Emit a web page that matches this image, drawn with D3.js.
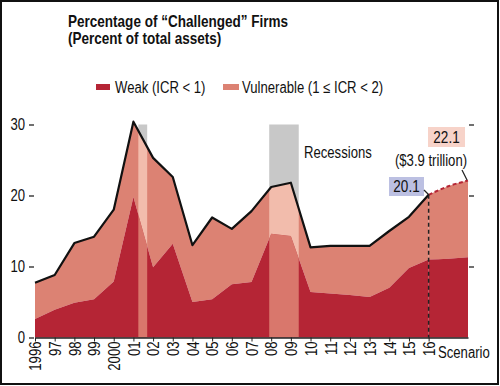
<!DOCTYPE html>
<html lang="en">
<head>
	<meta charset="UTF-8">
	<title>Challenged Firms</title>
	<style>
		body { margin:0; background:#fff; }
		text { font-family:"Liberation Sans",Arial,sans-serif; fill:#111; }
	</style>
</head>
<body>
	<svg width="500" height="386"></svg>

	<script src="https://d3js.org/d3.v7.min.js"></script>
	<script>
		// data
		var years = [1996,1997,1998,1999,2000,2001,2002,2003,2004,2005,2006,2007,2008,2009,2010,2011,2012,2013,2014,2015,2016,2017,2018];
		var weak  = [2.6,3.9,4.9,5.4,7.9,19.8,9.9,13.2,5.0,5.4,7.5,7.8,14.6,14.3,6.4,6.2,6.0,5.7,7.0,9.8,11.0,11.1,11.3];
		var total = [7.7,8.8,13.3,14.2,18.0,30.4,25.3,22.6,13.0,16.9,15.3,17.8,21.2,21.8,12.7,12.9,12.9,12.9,15.0,17.0,20.1,21.3,22.1];
		var tickLabels = ["1996","97","98","99","2000","01","02","03","04","05","06","07","08","09","10","11","12","13","14","15","16"];
		var lastActual = 2016;
		var recStart = [2001.25, 2007.9];
		var recEnd   = [2001.7, 2009.4];

		var svg = d3.select("svg");
		var x = d3.scaleLinear().domain([1996, 2018]).range([35, 468]);
		var y = d3.scaleLinear().domain([0, 30]).range([337.5, 124.5]);
		var narrow = 0.82; // squeeze Liberation Sans to look like a narrow face

		var data = years.map(function(yr, i){ return {yr:yr, w:weak[i], t:total[i]}; });
		var hist = data.filter(function(d){ return d.yr <= lastActual; });
		var scen = data.filter(function(d){ return d.yr >= lastActual; });

		var cWeak = "#b52535", cVuln = "#dc8273";

		function label(px, py, str, size, anchor, bold){
			return svg.append("text")
				.attr("transform","translate("+px+","+py+") scale("+narrow+",1)")
				.attr("font-size",size)
				.attr("text-anchor",anchor || "start")
				.attr("font-weight",bold ? "bold" : null)
				.text(str);
		}

		// frame
		svg.append("rect").attr("x",1).attr("y",1).attr("width",497).attr("height",383)
			.attr("fill","none").attr("stroke","#111").attr("stroke-width",2);

		// title
		label(68, 27, "Percentage of \u201CChallenged\u201D Firms", 16.5, "start", true);
		label(68, 44, "(Percent of total assets)", 16.5, "start", true);

		// legend
		svg.append("rect").attr("x",96).attr("y",84).attr("width",14).attr("height",6).attr("fill",cWeak);
		label(115, 93, "Weak (ICR < 1)", 16);
		svg.append("rect").attr("x",223).attr("y",84).attr("width",16).attr("height",6).attr("fill",cVuln);
		label(242, 93, "Vulnerable (1 \u2264 ICR < 2)", 16);

		// recession bands (grey part)
		svg.selectAll(".rec").data(recStart).enter().append("rect")
			.attr("x",function(d){ return x(d); })
			.attr("width",function(d,i){ return x(recEnd[i]) - x(d); })
			.attr("y",y(30)).attr("height",y(0)-y(30))
			.attr("fill","#c8c8c8");

		var areaV = function(curve){ return d3.area().x(function(d){ return x(d.yr); })
			.y0(function(d){ return y(d.w); }).y1(function(d){ return y(d.t); }).curve(curve); };
		var areaW = function(curve){ return d3.area().x(function(d){ return x(d.yr); })
			.y0(y(0)).y1(function(d){ return y(d.w); }).curve(curve); };

		var pieces = [[hist, d3.curveLinear], [scen, d3.curveMonotoneX]];
		var defs = svg.append("defs");
		var cpV = defs.append("clipPath").attr("id","clipV");
		var cpW = defs.append("clipPath").attr("id","clipW");
		pieces.forEach(function(p){
			svg.append("path").attr("d", areaV(p[1])(p[0])).attr("fill",cVuln);
			svg.append("path").attr("d", areaW(p[1])(p[0])).attr("fill",cWeak);
			cpV.append("path").attr("d", areaV(p[1])(p[0]));
			cpW.append("path").attr("d", areaW(p[1])(p[0]));
		});

		// recession bands seen through the areas
		[["clipV","#f2bcac"],["clipW","#d9776c"]].forEach(function(c){
			svg.append("g").attr("clip-path","url(#"+c[0]+")")
				.selectAll("rect").data(recStart).enter().append("rect")
				.attr("x",function(d){ return x(d); })
				.attr("width",function(d,i){ return x(recEnd[i]) - x(d); })
				.attr("y",y(30)).attr("height",y(0)-y(30))
				.attr("fill",c[1]);
		});

		// total line (history) and scenario dashed
		svg.append("path")
			.attr("d", d3.line().x(function(d){ return x(d.yr); }).y(function(d){ return y(d.t); })(hist))
			.attr("fill","none").attr("stroke","#111").attr("stroke-width",2.2).attr("stroke-linejoin","round");
		svg.append("path")
			.attr("d", d3.line().x(function(d){ return x(d.yr); }).y(function(d){ return y(d.t); }).curve(d3.curveMonotoneX)(scen))
			.attr("fill","none").attr("stroke","#b52535").attr("stroke-width",2).attr("stroke-dasharray","4,2.5");
		svg.append("line")
			.attr("x1",x(lastActual)).attr("x2",x(lastActual))
			.attr("y1",y(total[years.indexOf(lastActual)])).attr("y2",y(0))
			.attr("stroke","#222").attr("stroke-width",1.5).attr("stroke-dasharray","4,3");

		// axes
		var yAxis = svg.append("g").attr("transform","translate(34,0)")
			.call(d3.axisLeft(y).tickValues([0,10,20,30]).tickSize(5).tickPadding(4));
		yAxis.select(".domain").remove();
		yAxis.selectAll("text").attr("font-size",16).attr("font-family",null)
			.attr("x",-9/narrow).attr("transform","scale("+narrow+",1)");
		yAxis.selectAll("line").attr("stroke","#222").attr("stroke-width",1.3);

		var yAxisR = svg.append("g").attr("transform","translate(469,0)")
			.call(d3.axisRight(y).tickValues([10,20,30]).tickSize(5).tickFormat(""));
		yAxisR.select(".domain").remove();
		yAxisR.selectAll("line").attr("stroke","#222").attr("stroke-width",1.3);

		var xAxis = svg.append("g").attr("transform","translate(0,"+y(0)+")")
			.call(d3.axisBottom(x).tickValues(years.slice(0, tickLabels.length)).tickSize(4).tickSizeOuter(0)
				.tickFormat(function(d,i){ return tickLabels[i]; }));
		xAxis.select(".domain").attr("stroke","#222").attr("stroke-width",1.3);
		xAxis.selectAll("line").attr("stroke","#222");
		xAxis.selectAll("text").attr("font-size",16).attr("font-family",null)
			.attr("text-anchor","end").attr("transform","translate(0,4) rotate(-90) scale("+narrow+",1)")
			.attr("x",0).attr("y",0).attr("dy","0.36em");
		label(438, 358, "Scenario", 16);

		// annotations
		label(304, 158, "Recessions", 16);

		svg.append("rect").attr("x",428).attr("y",127).attr("width",37).attr("height",20).attr("fill","#f7d3c9");
		label(446.5, 143, total[total.length-1].toFixed(1), 16.5, "middle");
		label(431, 166, "($3.9 trillion)", 16, "middle");
		svg.append("line").attr("x1",462).attr("y1",170).attr("x2",467).attr("y2",180).attr("stroke","#222").attr("stroke-width",1.2);

		svg.append("rect").attr("x",389).attr("y",177).attr("width",35).attr("height",19).attr("fill","#bcc0e2");
		label(406.5, 192, total[years.indexOf(lastActual)].toFixed(1), 16.5, "middle");
		svg.append("line").attr("x1",424).attr("y1",190).attr("x2",429).attr("y2",195).attr("stroke","#222").attr("stroke-width",1.2);
	</script>
</body>
</html>
